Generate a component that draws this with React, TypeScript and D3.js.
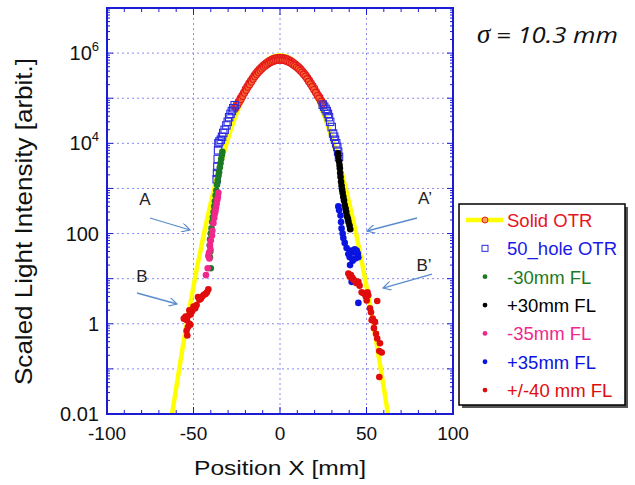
import React from 'react';
import * as d3 from 'd3';

// chart data
const xTickValues = [-100, -50, 0, 50, 100];
const yTickValues = [0.01, 1, 100, 1e4, 1e6];
const yTickBase = ['0.01', '1', '100', '10', '10'];
const yTickSup = ['', '', '', '4', '6'];

// gaussian fit, sigma = 10.3 mm
const fitCurve: [number, number][] = [
  [-66, 0.0006], [-64, 0.0037], [-60, 0.038], [-56, 0.34], [-52, 2.6], [-48, 17.3], [-44, 98],
  [-40, 477], [-36, 2.0e3], [-32, 7.2e3], [-28, 2.23e4], [-24, 5.96e4], [-20, 1.37e5],
  [-16, 2.69e5], [-12, 4.57e5], [-8, 6.66e5], [-4, 8.35e5], [0, 9e5], [4, 8.35e5],
  [8, 6.66e5], [12, 4.57e5], [16, 2.69e5], [20, 1.37e5], [24, 5.96e4], [28, 2.23e4],
  [32, 7.2e3], [36, 2.0e3], [40, 477], [44, 98], [48, 17.3], [52, 2.6], [56, 0.34],
  [60, 0.038], [64, 0.0037], [66, 0.0006],
];

const solidOtr: [number, number][] = [
  [-26, 6.5e4], [-25, 7.5e4], [-24, 8.5e4], [-23, 1.0e5], [-22, 1.15e5], [-21, 1.35e5],
  [-20, 1.6e5], [-19, 1.85e5], [-18, 2.15e5], [-17, 2.45e5], [-16, 2.8e5], [-15, 3.2e5],
  [-14, 3.6e5], [-13, 4.0e5], [-12, 4.4e5], [-11, 4.85e5], [-10, 5.3e5], [-9, 5.7e5],
  [-8, 6.1e5], [-7, 6.5e5], [-6, 6.9e5], [-5, 7.2e5], [-4, 7.5e5], [-3, 7.7e5],
  [-2, 7.85e5], [-1, 7.95e5], [0, 8.0e5], [1, 7.95e5], [2, 7.85e5], [3, 7.7e5],
  [4, 7.5e5], [5, 7.2e5], [6, 6.9e5], [7, 6.5e5], [8, 6.1e5], [9, 5.7e5], [10, 5.3e5],
  [11, 4.9e5], [12, 4.45e5], [13, 4.05e5], [14, 3.65e5], [15, 3.25e5], [16, 2.85e5],
  [17, 2.5e5], [18, 2.2e5], [19, 1.9e5], [20, 1.65e5], [21, 1.4e5], [22, 1.2e5],
  [23, 1.05e5], [24, 9e4], [25, 7.8e4],
  [-25.5, 6.1e4], [-24.5, 7.0e4], [-23.5, 8.1e4], [-22.5, 9.4e4], [-21.5, 1.1e5],
  [-20.5, 1.3e5], [-19.5, 1.5e5], [-18.5, 1.76e5], [-17.5, 2.0e5], [-16.5, 2.3e5],
  [-15.5, 2.64e5], [-14.5, 3.0e5], [-13.5, 3.34e5], [-12.5, 3.7e5], [-11.5, 4.07e5],
  [-10.5, 4.46e5], [-9.5, 4.84e5], [-8.5, 5.2e5], [-7.5, 5.54e5], [-6.5, 5.9e5],
  [-5.5, 6.2e5], [-4.5, 6.47e5], [-3.5, 6.69e5], [-2.5, 6.84e5], [-1.5, 6.95e5],
  [-0.5, 7.0e5], [0.5, 7.0e5], [1.5, 6.95e5], [2.5, 6.84e5], [3.5, 6.69e5], [4.5, 6.47e5],
  [5.5, 6.2e5], [6.5, 5.9e5], [7.5, 5.54e5], [8.5, 5.2e5], [9.5, 4.84e5], [10.5, 4.5e5],
  [11.5, 4.1e5], [12.5, 3.75e5], [13.5, 3.4e5], [14.5, 3.05e5], [15.5, 2.7e5],
  [16.5, 2.35e5], [17.5, 2.06e5], [18.5, 1.8e5], [19.5, 1.55e5], [20.5, 1.34e5],
  [21.5, 1.14e5], [22.5, 1.0e5], [23.5, 8.5e4], [24.5, 7.4e4],
];

const holeOtr: [number, number][] = [
  [-36.6, 1.6e3], [-36.4, 2.2e3], [-36.2, 3e3], [-36, 4.5e3], [-35.8, 7e3], [-35.6, 1e4],
  [-35, 1.1e4], [-34.2, 1.2e4], [-33.5, 1.4e4], [-32.8, 1.7e4], [-32, 2e4], [-31, 2.5e4],
  [-30.2, 3e4], [-29.4, 3.8e4], [-28.6, 4.5e4], [-27.8, 5.2e4], [-27, 6e4], [-26.2, 7e4],
  [24.7, 7.2e4], [25.5, 6.5e4], [26.3, 5.8e4], [27, 5.2e4], [27.7, 4.5e4], [28.3, 3.8e4],
  [29, 3e4], [29.9, 2.3e4], [30.7, 1.65e4], [31.3, 1.4e4], [31.8, 1.2e4], [32.5, 1e4],
  [33.1, 8.3e3], [33.6, 6.5e3], [34.1, 5e3],
];

const minus30: [number, number][] = [
  [-33.3, 6.5e3], [-33.6, 5.5e3], [-34, 4.5e3], [-34.4, 3.6e3], [-34.8, 2.9e3],
  [-35.2, 2.3e3], [-35.6, 1.9e3], [-36, 1.5e3], [-36.4, 1.2e3], [-36.8, 900],
  [-37.2, 700], [-37.6, 520], [-38, 400], [-38.4, 300], [-38.8, 230], [-39.2, 180],
  [-39.6, 130], [-40, 100], [-40.4, 75], [-40.6, 55], [-40.3, 40], [-40.5, 30], [-40, 17],
];

const plus30: [number, number][] = [
  [33.5, 6e3], [33.8, 5e3], [34.1, 4e3], [34.4, 3.3e3], [34.6, 2.8e3], [34.8, 2.2e3],
  [35, 1.8e3], [35.3, 1.4e3], [35.6, 1.15e3], [35.9, 950], [36.2, 800], [36.6, 650],
  [37, 540], [37.4, 430], [37.9, 360], [38.3, 300], [38.8, 240], [39.3, 210],
  [39.6, 180], [40.2, 150], [40.6, 125],
];

const minus35: [number, number][] = [
  [-35.6, 800], [-35.9, 650], [-36.2, 560], [-36.6, 460], [-37, 380], [-37.3, 320],
  [-37.6, 280], [-38, 220], [-38.5, 170], [-39.1, 115], [-39.3, 90], [-40, 70],
  [-40.5, 55], [-40.2, 45], [-41, 38], [-41.4, 32], [-40.8, 28], [-41.8, 17], [-42.8, 12],
];

const plus35: [number, number][] = [
  [33.7, 400], [34.2, 330], [35, 250], [35.3, 180], [35.6, 130], [36.2, 100], [36.6, 80],
  [37.4, 62], [38.5, 48], [39.5, 35], [40.3, 30], [41, 42], [42.4, 38], [43.2, 45],
  [44.3, 42], [45, 36], [45.3, 30], [43.5, 28], [42, 25], [40.5, 20], [41.4, 8.5], [45.3, 2.9],
];

const pm40: [number, number][] = [
  [-41.4, 5.8], [-42.2, 5], [-43, 4.6], [-44, 4.4], [-45, 4], [-45.8, 3.6], [-46.6, 3.4],
  [-47.4, 3.9], [-48.2, 2.6], [-49, 2.2], [-50, 2.4], [-50.8, 1.9], [-51.6, 1.6],
  [-52.4, 2], [-53, 1.5], [-53.8, 1.2], [-54.6, 1.45], [-55.6, 1.3], [-52.4, 1],
  [-53.2, 0.85], [-54, 0.7], [-53.6, 0.55], [-51.8, 0.95],
  [39.5, 13], [40.3, 11], [41, 12], [41.8, 10.5], [42.4, 9.5], [43.2, 9], [44, 8],
  [45.3, 8.5], [46, 7], [47.2, 5], [48, 4.8], [49.1, 4.6], [49.6, 4], [50.1, 3.3],
  [51, 4.3], [50.6, 5], [52, 2.2], [52.6, 1.8], [53, 1.2], [53.6, 1.3], [54.9, 1.1],
  [54.3, 0.8], [55.5, 0.6], [56.2, 0.47], [57.8, 0.37], [57.4, 0.25], [58.8, 0.23],
  [57.4, 0.066], [56.2, 3.2],
];

const dotSeries = [
  { name: '-30mm FL', color: '#1c7a24', data: minus30 },
  { name: '+30mm FL', color: '#000000', data: plus30 },
  { name: '-35mm FL', color: '#f0288c', data: minus35 },
  { name: '+35mm FL', color: '#0a14e0', data: plus35 },
  { name: '+/-40 mm FL', color: '#e00c0c', data: pm40 },
];

const legendNames = ['Solid OTR', '50_hole OTR', '-30mm FL', '+30mm FL', '-35mm FL', '+35mm FL', '+/-40 mm FL'];
const legendColors = ['#e8141c', '#1a1ae8', '#1c7a24', '#000000', '#f0288c', '#0a14e0', '#e00c0c'];

const font = 'Arial, "Liberation Sans", sans-serif';
const axisColor = '#1c1cd4';
const gridColor = '#8a8af0';
const arrowColor = '#5a8ccc';

export default function App() {
  const left = 107, right = 453, top = 8, bottom = 414;
  const x = d3.scaleLinear().domain([-100, 100]).range([left, right]);
  const y = d3.scaleLog().domain([0.01, 1e7]).range([bottom, top]);

  const line = d3.line<[number, number]>()
    .x(d => x(d[0]))
    .y(d => y(d[1]))
    .curve(d3.curveCatmullRom);

  const xMinor = d3.range(-90, 100, 10);
  const decades = d3.range(-2, 7);
  const yMajor = decades.map(e => Math.pow(10, e)).concat([1e7]);
  const yMinor: number[] = [];
  decades.forEach(e => {
    for (let k = 2; k <= 9; k++) yMinor.push(k * Math.pow(10, e));
  });
  const yGrid = d3.range(-1, 7).map(e => Math.pow(10, e));

  const annotations = [
    { t: 'A', tx: 145, ty: 205, x1: 150, y1: 218, x2: 190, y2: 230 },
    { t: 'B', tx: 142, ty: 282, x1: 137, y1: 293, x2: 177, y2: 304 },
    { t: 'A\u2019', tx: 425, ty: 204, x1: 417, y1: 218, x2: 367, y2: 231 },
    { t: 'B\u2019', tx: 424, ty: 271, x1: 432, y1: 274, x2: 383, y2: 288 },
  ];

  const lgX = 459, lgY = 204, lgW = 166, lgH = 201;
  const rowY = (i: number) => 227 + i * 28.35;

  return (
    <svg width={635} height={485} style={{ position: 'absolute', left: 0, top: 0, background: '#fff' }}
      fontFamily={font}>
      <defs>
        <clipPath id="plotClip">
          <rect x={left} y={top} width={right - left} height={bottom - top} />
        </clipPath>
        <marker id="arrow" viewBox="0 0 10 10" refX="9" refY="5" markerWidth="9" markerHeight="9"
          markerUnits="userSpaceOnUse" orient="auto">
          <path d="M0,0 L9,5 L0,10" fill="none" stroke={arrowColor} strokeWidth="1.3" />
        </marker>
      </defs>

      {/* grid */}
      <g stroke={gridColor} strokeWidth={1} strokeDasharray="2,3">
        {[-50, 0, 50].map(v => (
          <line key={'gx' + v} x1={x(v)} x2={x(v)} y1={top} y2={bottom} />
        ))}
        {yGrid.map(v => (
          <line key={'gy' + v} x1={left} x2={right} y1={y(v)} y2={y(v)} />
        ))}
      </g>

      {/* fit curve */}
      <path d={line(fitCurve) || ''} fill="none" stroke="#ffff00" strokeWidth={4.5} clipPath="url(#plotClip)" />

      {/* data */}
      <g clipPath="url(#plotClip)">
        {solidOtr.map((d, i) => (
          <circle key={'s' + i} cx={x(d[0])} cy={y(d[1])} r={3.1} fill="#f66a30" fillOpacity={0.85}
            stroke="#e4161a" strokeWidth={1.1} />
        ))}
        {holeOtr.map((d, i) => (
          <rect key={'h' + i} x={x(d[0]) - 3.7} y={y(d[1]) - 3.7} width={7.4} height={7.4}
            fill="none" stroke="#2a2ae0" strokeWidth={1.1} />
        ))}
        {dotSeries.map(s => s.data.map((d, i) => (
          <circle key={s.name + i} cx={x(d[0])} cy={y(d[1])} r={3.3} fill={s.color} />
        )))}
      </g>

      {/* axes frame */}
      <rect x={left} y={top} width={right - left} height={bottom - top} fill="none" stroke={axisColor} strokeWidth={2} />
      <g stroke={axisColor} strokeWidth={1}>
        {xMinor.map(v => {
          const len = v % 50 === 0 ? 7 : 4;
          return (
            <g key={'xt' + v}>
              <line x1={x(v)} x2={x(v)} y1={bottom} y2={bottom - len} />
              <line x1={x(v)} x2={x(v)} y1={top} y2={top + len} />
            </g>
          );
        })}
        {yMajor.map(v => (
          <g key={'yM' + v}>
            <line x1={left} x2={left + 6} y1={y(v)} y2={y(v)} />
            <line x1={right} x2={right - 6} y1={y(v)} y2={y(v)} />
          </g>
        ))}
        {yMinor.map(v => (
          <g key={'ym' + v}>
            <line x1={left} x2={left + 3} y1={y(v)} y2={y(v)} />
            <line x1={right} x2={right - 3} y1={y(v)} y2={y(v)} />
          </g>
        ))}
      </g>

      {/* tick labels */}
      <g fontSize={19} fill="#111" textAnchor="middle">
        {xTickValues.map(v => (
          <text key={'xl' + v} x={x(v)} y={bottom + 26}>{v}</text>
        ))}
      </g>
      <g fontSize={20} fill="#111" textAnchor="end">
        {yTickValues.map((v, i) => (
          <text key={'yl' + v} x={99} y={y(v) + 7}>
            {yTickBase[i]}
            {yTickSup[i] && <tspan fontSize={13} dy={-9}>{yTickSup[i]}</tspan>}
          </text>
        ))}
      </g>

      {/* axis titles */}
      <text x={280} y={475} fontSize={21} textAnchor="middle" fill="#111" textLength={172}
        lengthAdjust="spacingAndGlyphs">Position X [mm]</text>
      <text transform="translate(32,221.5) rotate(-90)" fontSize={24} textAnchor="middle" fill="#111"
        textLength={327} lengthAdjust="spacingAndGlyphs">Scaled Light Intensity [arbit.]</text>

      {/* sigma note */}
      <text x={477} y={43} fontSize={27} fontStyle="italic" fill="#111"
        fontFamily='"Liberation Serif", "DejaVu Serif", serif'>σ</text>
      <text x={496} y={43} fontSize={22} fontStyle="italic" fill="#111" textLength={122}
        lengthAdjust="spacingAndGlyphs" fontFamily='"Open Sans", "Liberation Sans", sans-serif'>= 10.3 mm</text>

      {/* annotations */}
      <g fontSize={17} fill="#222" textAnchor="middle">
        {annotations.map(a => (
          <g key={a.t}>
            <text x={a.tx} y={a.ty}>{a.t}</text>
            <line x1={a.x1} y1={a.y1} x2={a.x2} y2={a.y2} stroke={arrowColor} strokeWidth={1.3}
              markerEnd="url(#arrow)" />
          </g>
        ))}
      </g>

      {/* legend */}
      <rect x={lgX + 3} y={lgY + 3} width={lgW} height={lgH} fill="#555" />
      <rect x={lgX} y={lgY} width={lgW} height={lgH} fill="#fff" stroke="#000" strokeWidth={1.5} />
      <line x1={466} x2={503} y1={rowY(0) - 7} y2={rowY(0) - 7} stroke="#ffff00" strokeWidth={4.5} />
      <circle cx={485} cy={rowY(0) - 7} r={3} fill="#f7a05a" stroke="#e8201c" strokeWidth={1} />
      <rect x={482} y={rowY(1) - 10} width={6} height={6} fill="none" stroke="#2a2ae0" strokeWidth={1} />
      {dotSeries.map((s, i) => (
        <circle key={'lg' + s.name} cx={485} cy={rowY(i + 2) - 7} r={2.4} fill={s.color} />
      ))}
      <g fontSize={18.5}>
        {legendNames.map((n, i) => (
          <text key={'ln' + n} x={507} y={rowY(i)} fill={legendColors[i]}>{n}</text>
        ))}
      </g>
    </svg>
  );
}
